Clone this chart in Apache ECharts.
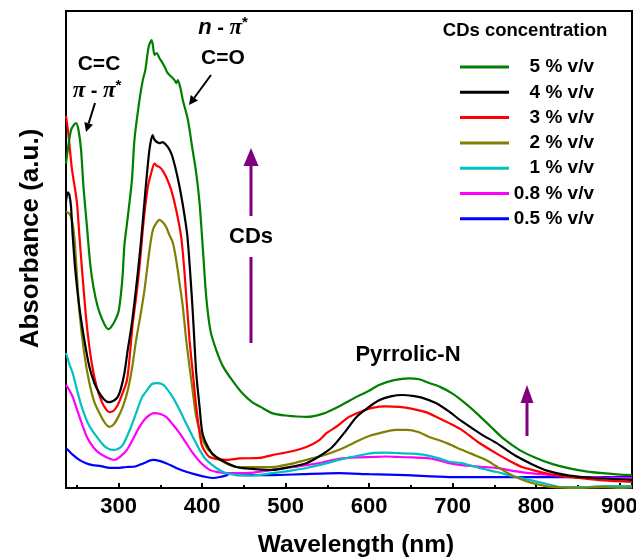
<!DOCTYPE html>
<html>
<head>
<meta charset="utf-8">
<script src="https://cdn.jsdelivr.net/npm/echarts@6/dist/echarts.min.js"></script>
<style>html,body{margin:0;padding:0;background:#fff}#c{width:636px;height:559px}</style>
</head>
<body>
<div id="c"></div>
<script>
// ---- data (wavelength nm, absorbance a.u.) ----
const seriesNames = ['5 % v/v','4 % v/v','3 % v/v','2 % v/v','1 % v/v','0.8 % v/v','0.5 % v/v'];
const seriesColors = ['#008000','#000000','#ff0000','#808000','#00c0c0','#ff00ff','#0000ff'];
const majorTicks = [300,400,500,600,700,800,900];
const minorTicks = [250,350,450,550,650,750,850];

const wl5 = [237,240,243,246,249,252,255,258,262,266,270,275,280,285,288,292,296,300,303,305,307,311,316,319,325,329,332,336,339.5,341,343,345.5,349,353,356,358,361,367,369,371,374,377,383,388,393,397,401,405,410,417,425,436,448,460,470,484,500,525,545,565,585,600,612,630,648,660,672,685,700,715,730,745,760,780,800,820,840,860,880,900,915];
const ab5 = [0.68,0.72,0.75,0.76,0.765,0.75,0.71,0.63,0.55,0.47,0.42,0.38,0.355,0.337,0.333,0.34,0.352,0.37,0.41,0.45,0.51,0.568,0.646,0.73,0.813,0.855,0.876,0.925,0.939,0.929,0.908,0.912,0.901,0.89,0.88,0.872,0.866,0.855,0.849,0.855,0.839,0.813,0.772,0.716,0.66,0.597,0.50,0.40,0.33,0.289,0.255,0.226,0.199,0.18,0.17,0.157,0.152,0.149,0.156,0.172,0.191,0.204,0.216,0.226,0.230,0.228,0.220,0.212,0.198,0.178,0.155,0.13,0.105,0.08,0.063,0.05,0.041,0.035,0.031,0.028,0.027];

const wl4 = [237,239,241,243,245,248,253,259,265,271,277,283,288,294,299,303,307,311,316,323,327,330,333,337,340.7,343,349,352.6,357,361,364.6,370.6,376.6,382.5,388.5,393,397,400.5,409,417,441,460,484,505,525,540,556,570,585,600,612,626,640,652,664,680,696,711,735,752,775,795,814,840,870,915];
const ab4 = [0.60,0.62,0.615,0.59,0.53,0.46,0.379,0.31,0.254,0.22,0.199,0.185,0.18,0.183,0.191,0.21,0.241,0.29,0.346,0.451,0.52,0.58,0.64,0.71,0.74,0.73,0.723,0.725,0.719,0.709,0.694,0.652,0.597,0.526,0.379,0.241,0.17,0.115,0.08,0.065,0.044,0.04,0.038,0.044,0.052,0.066,0.086,0.115,0.149,0.17,0.184,0.192,0.195,0.193,0.189,0.178,0.16,0.14,0.112,0.095,0.068,0.05,0.036,0.026,0.021,0.017];

const wl3 = [237,240,244,250,253,257,262,268,274,280,285,289,294,299,304,310,313,317,321,325,330,335,339,343,346,349,353,357,363,369,375,379,385,389,393,399,404,409,420,430,445,469,484,505,525,540,549,562,576,590,604,620,636,652,668,682,696,711,730,752,768,783,800,812,830,851,880,915];
const ab3 = [0.78,0.74,0.67,0.60,0.53,0.44,0.34,0.26,0.21,0.18,0.165,0.159,0.162,0.174,0.195,0.226,0.27,0.346,0.40,0.463,0.56,0.631,0.66,0.68,0.675,0.673,0.665,0.652,0.625,0.583,0.526,0.451,0.31,0.24,0.17,0.094,0.075,0.065,0.06,0.059,0.062,0.063,0.069,0.076,0.086,0.10,0.115,0.13,0.149,0.16,0.168,0.171,0.17,0.166,0.159,0.148,0.136,0.122,0.097,0.073,0.057,0.044,0.036,0.031,0.025,0.021,0.016,0.013];

const wl2 = [237,241,244,247,250,253,259,265,271,277,283,289,294,299,305,311,316,321,326,331,337,341,345,349,353,357,361,365,369,373,377,381,385,389,393,399,405,413,421,441,460,484,505,525,545,564,580,597,615,632,645,660,672,684,696,711,725,735,744,752,771,790,812,830,851,880,900,915];
const ab2 = [0.58,0.575,0.562,0.526,0.45,0.37,0.28,0.22,0.18,0.157,0.138,0.128,0.133,0.147,0.17,0.205,0.25,0.31,0.36,0.415,0.499,0.541,0.555,0.562,0.557,0.547,0.53,0.514,0.478,0.43,0.379,0.31,0.254,0.20,0.149,0.11,0.086,0.07,0.059,0.044,0.044,0.044,0.05,0.059,0.068,0.08,0.093,0.107,0.116,0.122,0.122,0.117,0.107,0.10,0.092,0.08,0.07,0.063,0.055,0.046,0.027,0.013,0.004,0.001,0.0,0.002,0.0,0.001];

const wl1 = [237,241,245,251,257,265,274,283,293,299,305,313,321,328,334,340,346,352,357,365,373,381,389,397,405,417,429,445,460,484,505,525,545,564,585,604,620,636,652,668,684,696,711,730,752,772,792,812,831,860,880,915];
const ab1 = [0.283,0.26,0.241,0.20,0.164,0.13,0.107,0.088,0.08,0.082,0.09,0.12,0.157,0.19,0.205,0.218,0.22,0.218,0.21,0.19,0.164,0.135,0.107,0.08,0.059,0.042,0.031,0.027,0.026,0.031,0.036,0.042,0.05,0.059,0.067,0.073,0.074,0.073,0.072,0.069,0.062,0.055,0.052,0.043,0.034,0.025,0.017,0.009,0.002,0.002,0.004,0.004];

const wl08 = [237,241,245,253,262,270,277,286,295,302,310,318,325,333,343,350,357,365,373,381,389,398,409,420,429,453,484,505,525,545,564,585,604,620,636,652,668,684,696,711,730,752,772,792,820,851,880,915];
const ab08 = [0.216,0.205,0.191,0.15,0.107,0.085,0.073,0.064,0.059,0.066,0.08,0.105,0.128,0.147,0.157,0.155,0.149,0.133,0.115,0.094,0.073,0.054,0.038,0.033,0.031,0.031,0.038,0.043,0.048,0.054,0.061,0.064,0.065,0.066,0.065,0.064,0.063,0.058,0.052,0.048,0.045,0.042,0.036,0.031,0.027,0.023,0.022,0.021];

const wl05 = [237,245,253,261,269,279,289,299,309,320,330,341,349,357,369,381,393,405,413,421,428,433,437,441,453,484,520,564,600,644,696,752,831,915];
const ab05 = [0.084,0.07,0.059,0.052,0.048,0.046,0.042,0.042,0.044,0.045,0.052,0.059,0.057,0.052,0.042,0.034,0.028,0.023,0.021,0.023,0.026,0.03,0.031,0.027,0.027,0.027,0.029,0.031,0.029,0.027,0.023,0.023,0.023,0.023];

const wlSets = [wl5, wl4, wl3, wl2, wl1, wl08, wl05];
const abSets = [ab5, ab4, ab3, ab2, ab1, ab08, ab05];

// ---- chart ----
const FONT = '"Liberation Sans", Arial, sans-serif';
const SERIF = '"Liberation Serif", "Times New Roman", serif';
const chart = echarts.init(document.getElementById('c'), null, {renderer: 'canvas'});

const series = [];
for (let i = seriesNames.length - 1; i >= 0; i--) {
  series.push({
    name: seriesNames[i],
    type: 'line',
    data: wlSets[i].map((x, k) => [x, abSets[i][k]]),
    showSymbol: false,
    smooth: 0.25,
    lineStyle: {width: 2.2, color: seriesColors[i]},
    itemStyle: {color: seriesColors[i]},
    z: 2
  });
}

function arrow(x1, y1, x2, y2, color, w, headL, headW) {
  const ang = Math.atan2(y2 - y1, x2 - x1);
  const bx = x2 - headL * Math.cos(ang), by = y2 - headL * Math.sin(ang);
  const px = -Math.sin(ang) * headW / 2, py = Math.cos(ang) * headW / 2;
  return [
    {type: 'line', shape: {x1: x1, y1: y1, x2: bx, y2: by}, style: {stroke: color, lineWidth: w}, z: 10},
    {type: 'polygon', shape: {points: [[x2, y2], [bx + px, by + py], [bx - px, by - py]]}, style: {fill: color}, z: 10}
  ];
}

const piRich = {
  p: {fontFamily: SERIF, fontStyle: 'italic', fontWeight: 'bold', fontSize: 23, fill: '#000'},
  n: {fontFamily: FONT, fontStyle: 'italic', fontWeight: 'bold', fontSize: 22, fill: '#000'},
  d: {fontFamily: FONT, fontWeight: 'bold', fontSize: 20, fill: '#000'},
  s: {fontFamily: FONT, fontWeight: 'bold', fontSize: 15, fill: '#000', verticalAlign: 'top', padding: [0, 0, 10, 0]}
};

const graphics = [
  {type: 'text', style: {text: 'C=C', x: 99, y: 64, align: 'center', verticalAlign: 'middle', font: 'bold 21px ' + FONT, fill: '#000'}, z: 10},
  {type: 'text', style: {text: '{p|π}{d| - }{p|π}{s|*}', rich: piRich, x: 97, y: 91, align: 'center', verticalAlign: 'middle'}, z: 10},
  {type: 'text', style: {text: '{n|n}{d| - }{p|π}{s|*}', rich: piRich, x: 223, y: 28, align: 'center', verticalAlign: 'middle'}, z: 10},
  {type: 'text', style: {text: 'C=O', x: 223, y: 58, align: 'center', verticalAlign: 'middle', font: 'bold 21px ' + FONT, fill: '#000'}, z: 10},
  {type: 'text', style: {text: 'CDs', x: 251, y: 237, align: 'center', verticalAlign: 'middle', font: 'bold 22px ' + FONT, fill: '#000'}, z: 10},
  {type: 'text', style: {text: 'Pyrrolic-N', x: 408, y: 355, align: 'center', verticalAlign: 'middle', font: 'bold 22px ' + FONT, fill: '#000'}, z: 10},
  {type: 'text', style: {text: 'CDs concentration', x: 525, y: 31, align: 'center', verticalAlign: 'middle', font: 'bold 18.5px ' + FONT, fill: '#000'}, z: 10},
  {type: 'line', shape: {x1: 251, y1: 257, x2: 251, y2: 343}, style: {stroke: '#800080', lineWidth: 3}, z: 10}
]
  .concat(arrow(95, 103, 86, 132, '#000', 2, 9, 9))
  .concat(arrow(211, 75, 189, 105, '#000', 2, 9, 9))
  .concat(arrow(251, 216, 251, 148, '#800080', 3, 18, 15))
  .concat(arrow(527, 436, 527, 385, '#800080', 3, 18, 13));

chart.setOption({
  animation: false,
  backgroundColor: '#fff',
  grid: {left: 66, right: 4, top: 11, bottom: 71, show: true, borderColor: '#000', borderWidth: 2, containLabel: false, outerBoundsMode: 'none'},
  legend: {
    data: seriesNames,
    orient: 'vertical',
    left: 460, top: 57.5, padding: 0,
    itemWidth: 49, itemHeight: 3, itemGap: 6.3,
    icon: 'rect',
    selectedMode: false,
    formatter: (name) => '{a|' + name + '}',
    textStyle: {rich: {a: {width: 80, align: 'right', fontSize: 19, fontWeight: 'bold', fontFamily: FONT, color: '#000', lineHeight: 19}}}
  },
  xAxis: [
    {
      type: 'value', min: 237, max: 915, position: 'bottom',
      name: 'Wavelength (nm)', nameLocation: 'middle', nameGap: 45,
      nameTextStyle: {fontSize: 24.5, fontWeight: 'bold', fontFamily: FONT, color: '#000', padding: [0, 0, 0, 14]},
      axisLine: {show: true, lineStyle: {color: '#000', width: 2}},
      axisTick: {show: true, inside: true, length: 5, lineStyle: {color: '#000', width: 2}, customValues: majorTicks},
      axisLabel: {show: true, customValues: majorTicks, fontSize: 22, fontWeight: 'bold', fontFamily: FONT, color: '#000', margin: 8},
      splitLine: {show: false}
    },
    {
      type: 'value', min: 237, max: 915, position: 'bottom', gridIndex: 0,
      axisLine: {show: false},
      axisTick: {show: true, inside: true, length: 3, lineStyle: {color: '#000', width: 2}, customValues: minorTicks},
      axisLabel: {show: false},
      splitLine: {show: false}
    }
  ],
  yAxis: {
    type: 'value', min: 0, max: 1,
    name: 'Absorbance (a.u.)', nameLocation: 'middle', nameGap: 22,
    nameTextStyle: {fontSize: 26, fontWeight: 'bold', fontFamily: FONT, color: '#000', padding: [0, 0, 0, 22]},
    axisLine: {show: true, lineStyle: {color: '#000', width: 2}},
    axisTick: {show: false},
    axisLabel: {show: false},
    splitLine: {show: false}
  },
  series: series,
  graphic: graphics
});
</script>
</body>
</html>
